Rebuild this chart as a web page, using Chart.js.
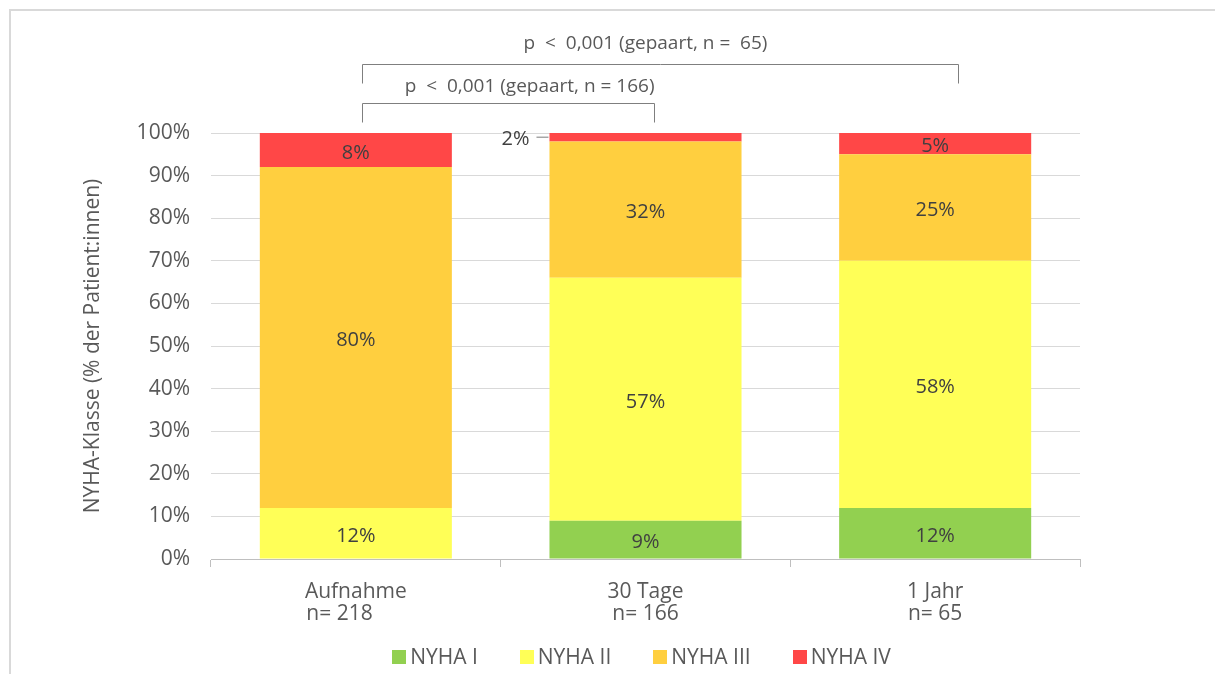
<!DOCTYPE html>
<html lang="de">
<head>
<meta charset="utf-8">
<title>NYHA-Klasse</title>
<script src="https://cdn.jsdelivr.net/npm/chart.js@4/dist/chart.umd.min.js"></script>
<style>
    html, body {
        margin: 0;
        padding: 0;
        background: #ffffff;
    }
    .frame {
        position: absolute;
        left: 9px;
        top: 9px;
        right: 0;
        bottom: 0;
        border-top: 2px solid #d9d9d9;
        border-left: 2px solid #d9d9d9;
    }
    .chart-wrap {
        position: absolute;
        left: 0;
        top: 0;
        width: 1215px;
        height: 674px;
    }
</style>
</head>
<body>
<div class="frame"></div>
<div class="chart-wrap"><canvas id="nyhaChart"></canvas></div>
<script>
const categories = [['Aufnahme', 'n= 218      '], ['30 Tage', 'n= 166'], ['1 Jahr', 'n= 65']];
const seriesNames = ['NYHA I', 'NYHA II', 'NYHA III', 'NYHA IV'];
const nyhaI = [0, 9, 12];
const nyhaII = [12, 57, 58];
const nyhaIII = [80, 32, 25];
const nyhaIV = [8, 2, 5];
const yTicks = [0, 10, 20, 30, 40, 50, 60, 70, 80, 90, 100];
const seriesColors = ['#92d050', '#ffff57', '#ffcf3f', '#ff4747'];

// significance brackets, ends given in category index units
const brackets = [
    { from: 0.02, to: 1.03, rise: 30, textGap: 17, textAt: 0.6, text: 'p  <  0,001 (gepaart, n = 166)' },
    { from: 0.02, to: 2.08, rise: 69, textGap: 21, textAt: 1.0, text: 'p  <  0,001 (gepaart, n =  65)' }
];

const textColor = '#595959';
const labelFont = '"Open Sans", sans-serif';

document.addEventListener('DOMContentLoaded', () => {
    initializeChart();
});

const segmentLabels = {
    id: 'segmentLabels',
    afterDatasetsDraw(chart) {
        const ctx = chart.ctx;
        ctx.save();
        ctx.font = '20px ' + labelFont;
        ctx.fillStyle = '#404040';
        ctx.textBaseline = 'middle';
        chart.data.datasets.forEach((ds, di) => {
            const meta = chart.getDatasetMeta(di);
            meta.data.forEach((bar, i) => {
                const v = ds.data[i];
                if (!v) return;
                const top = Math.min(bar.y, bar.base);
                const h = Math.abs(bar.base - bar.y);
                const cy = top + h / 2;
                const txt = v + '%';
                if (h < 16) {
                    // thin segment: label sits left of the bar with a short leader
                    const left = bar.x - bar.width / 2;
                    ctx.textAlign = 'right';
                    ctx.fillText(txt, left - 20, cy + 2);
                    ctx.strokeStyle = '#a6a6a6';
                    ctx.lineWidth = 1.5;
                    ctx.beginPath();
                    ctx.moveTo(left - 13, cy);
                    ctx.lineTo(left - 1, cy);
                    ctx.stroke();
                } else {
                    ctx.textAlign = 'center';
                    ctx.fillText(txt, bar.x, cy + 3);
                }
            });
        });
        ctx.restore();
    }
};

const sigBrackets = {
    id: 'sigBrackets',
    afterDraw(chart) {
        const ctx = chart.ctx;
        const x = chart.scales.x;
        const top = chart.chartArea.top;
        ctx.save();
        ctx.strokeStyle = '#7f7f7f';
        ctx.lineWidth = 1;
        ctx.font = '19px ' + labelFont;
        ctx.fillStyle = textColor;
        ctx.textAlign = 'center';
        ctx.textBaseline = 'middle';
        brackets.forEach(b => {
            const x1 = Math.round(x.getPixelForValue(b.from)) + 0.5;
            const x2 = Math.round(x.getPixelForValue(b.to)) + 0.5;
            const yTop = top - b.rise + 0.5;
            const yEnd = yTop + 19;
            ctx.beginPath();
            ctx.moveTo(x1, yEnd);
            ctx.lineTo(x1, yTop);
            ctx.lineTo(x2, yTop);
            ctx.lineTo(x2, yEnd);
            ctx.stroke();
            ctx.fillText(b.text, x.getPixelForValue(b.textAt), yTop - b.textGap);
        });
        ctx.restore();
    }
};

// legend row under the axis, centred on the plot area
const bottomLegend = {
    id: 'bottomLegend',
    afterDraw(chart) {
        const ctx = chart.ctx;
        const area = chart.chartArea;
        const box = 14, gap = 4, spacing = 42;
        const y = 657;
        ctx.save();
        ctx.font = '21px ' + labelFont;
        ctx.textBaseline = 'middle';
        ctx.textAlign = 'left';
        const widths = seriesNames.map(n => ctx.measureText(n).width);
        const total = widths.reduce((s, w) => s + box + gap + w, 0) + spacing * (seriesNames.length - 1);
        let cx = (area.left + area.right) / 2 - 4 - total / 2;
        seriesNames.forEach((name, i) => {
            ctx.fillStyle = seriesColors[i];
            ctx.fillRect(Math.round(cx), y - 7, box, box);
            ctx.fillStyle = textColor;
            ctx.fillText(name, cx + box + gap, y + 1);
            cx += box + gap + widths[i] + spacing;
        });
        ctx.restore();
    }
};

function initializeChart() {
    const ctx = document.getElementById('nyhaChart').getContext('2d');
    const seriesData = [nyhaI, nyhaII, nyhaIII, nyhaIV];

    new Chart(ctx, {
        type: 'bar',
        data: {
            labels: categories,
            datasets: seriesNames.map((name, i) => ({
                label: name,
                data: seriesData[i],
                backgroundColor: seriesColors[i],
                borderWidth: 0,
                categoryPercentage: 1,
                barPercentage: 0.663
            }))
        },
        options: {
            responsive: true,
            maintainAspectRatio: false,
            animation: false,
            layout: {
                padding: { top: 133, right: 135, bottom: 45, left: 72 }
            },
            plugins: {
                legend: { display: false },
                tooltip: { enabled: false }
            },
            scales: {
                x: {
                    stacked: true,
                    grid: {
                        offset: true,
                        drawOnChartArea: false,
                        drawTicks: true,
                        tickLength: 8,
                        color: '#bfbfbf'
                    },
                    border: { display: true, color: '#bfbfbf', width: 1 },
                    ticks: {
                        color: textColor,
                        padding: 14,
                        font: { family: labelFont, size: 21, lineHeight: 1.05 }
                    },
                    afterFit: scale => { scale.height = 70; }
                },
                y: {
                    stacked: true,
                    min: 0,
                    max: 100,
                    afterBuildTicks: scale => {
                        scale.ticks = yTicks.map(v => ({ value: v }));
                    },
                    grid: {
                        color: '#d9d9d9',
                        drawTicks: false
                    },
                    border: { display: false },
                    ticks: {
                        color: textColor,
                        padding: 21,
                        font: { family: labelFont, size: 21 },
                        callback: v => v + '%'
                    },
                    title: {
                        display: true,
                        text: 'NYHA-Klasse (% der Patient:innen)',
                        color: textColor,
                        font: { family: labelFont, size: 21 },
                        padding: { top: 8, bottom: 0 }
                    },
                    afterFit: scale => { scale.width = 211 - 72; }
                }
            }
        },
        plugins: [segmentLabels, sigBrackets, bottomLegend]
    });
}
</script>
</body>
</html>
